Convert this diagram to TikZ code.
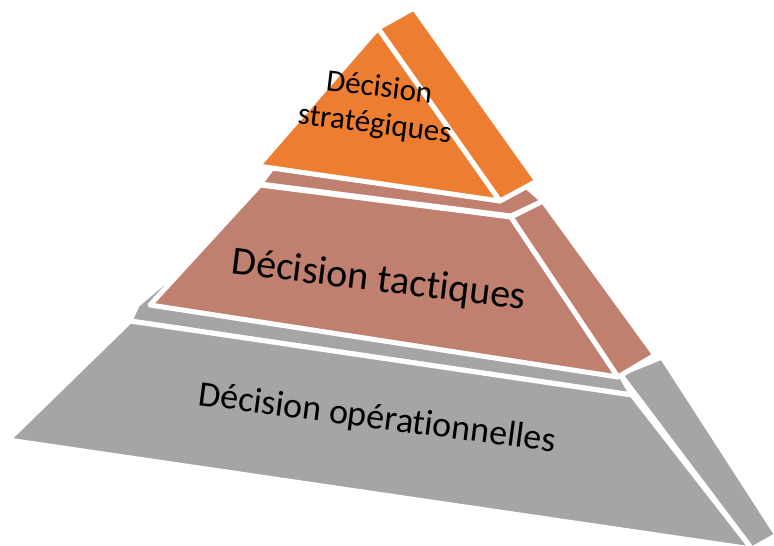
\documentclass[tikz,border=0pt]{standalone}
\usepackage{fontspec}
\setmainfont{Carlito}[Ligatures=NoCommon]
\definecolor{orangeL}{HTML}{ED7D31}
\definecolor{roseL}{HTML}{C0806F}
\definecolor{grayL}{HTML}{A5A5A5}
\begin{document}
\begin{tikzpicture}[x=1pt,y=-1pt,
  face/.style={draw=white,line width=5pt,line join=round},
  lbl/.style={text=black,inner sep=0pt,align=center,rotate=-7}]
\useasboundingbox (0,0) rectangle (774,546);
% bottom layer (grey)
\fill[face,fill=grayL] (163,283) -- (137,305) -- (130,321) -- (632,395) -- (620,374) -- (662,357) -- (600,300) -- (200,272) -- cycle;
\fill[face,fill=grayL] (130,321) -- (632,395) -- (752,549) -- (8,440) -- cycle;
\fill[face,fill=grayL] (620,374) -- (662,357) -- (777,535) -- (752,549) -- cycle;
% middle layer (rose)
\fill[face,fill=roseL] (272,168) -- (260,184) -- (511,216) -- (543,201) -- (525,185) -- cycle;
\fill[face,fill=roseL] (260,185) -- (511,217) -- (618,377) -- (150,305) -- cycle;
\fill[face,fill=roseL] (511,217) -- (543,201) -- (655,355) -- (618,377) -- cycle;
% top layer (orange)
\fill[face,fill=orangeL] (378,28) -- (258,166) -- (500,201) -- cycle;
\fill[face,fill=orangeL] (378,28) -- (414,8) -- (537,181) -- (500,201) -- cycle;
% labels
\node[lbl,font=\fontsize{31}{37}\selectfont] (strat) at (377,107) {Décision\\stratégiques};
\node[lbl,font=\fontsize{40}{46}\selectfont] (tact) at (379,281) {Décision tactiques};
\node[lbl,rotate=-0.5,font=\fontsize{36}{42}\selectfont] (oper) at (377,419) {Décision opérationnelles};
\end{tikzpicture}
\end{document}
